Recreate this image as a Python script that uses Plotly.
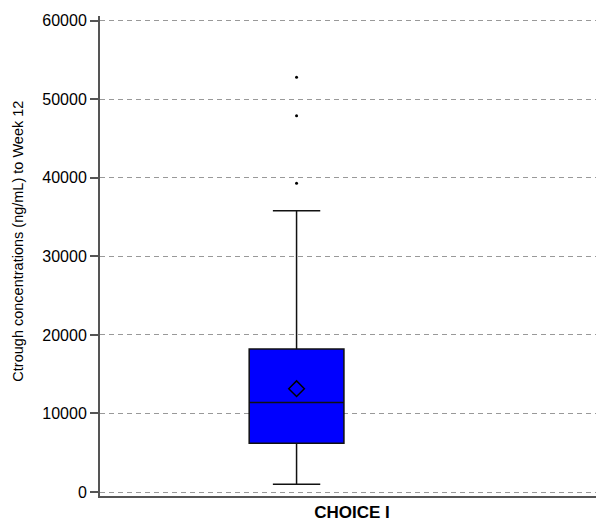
import plotly.graph_objects as go

category = ["CHOICE I"]
q1 = [6200]
median = [11400]
q3 = [18200]
lower_fence = [1000]
upper_fence = [35800]
mean = [13150]
outliers = [39300, 47900, 52800]
y_ticks = [0, 10000, 20000, 30000, 40000, 50000, 60000]
y_title = "Ctrough concentrations (ng/mL) to Week 12"

box_pos = 0.39
label_pos = 0.5

fig = go.Figure()
fig.add_trace(go.Box(
    x=[box_pos], q1=q1, median=median, q3=q3,
    lowerfence=lower_fence, upperfence=upper_fence,
    width=0.188, whiskerwidth=0.5,
    fillcolor="#0000FF", line=dict(color="#111111", width=1.5),
    boxpoints=False, name=category[0], showlegend=False,
))
fig.add_trace(go.Scatter(
    x=[box_pos] * len(mean), y=mean, mode="markers",
    marker=dict(symbol="diamond-open", size=12, color="#000000", line=dict(width=1.5, color="#000000")),
    showlegend=False,
))
fig.add_trace(go.Scatter(
    x=[box_pos] * len(outliers), y=outliers, mode="markers",
    marker=dict(symbol="circle", size=3, color="#000000"),
    showlegend=False,
))

fig.update_layout(
    width=596, height=516,
    margin=dict(l=92, r=0, t=8, b=28),
    paper_bgcolor="white", plot_bgcolor="white",
    font=dict(family="Liberation Sans, Arial, sans-serif", color="#000000"),
    xaxis=dict(
        range=[0, 1], showgrid=False, zeroline=False,
        tickvals=[label_pos], ticktext=["<b>" + category[0] + "</b>"],
        ticks="", tickfont=dict(size=17, color="#000000"),
        showline=True, linecolor="#555555", linewidth=2, automargin=False,
    ),
    yaxis=dict(
        range=[-509, 60598], tickvals=y_ticks, ticktext=[str(v) for v in y_ticks],
        showgrid=True, gridcolor="#999999", gridwidth=1, griddash="5px,4px",
        zeroline=False, ticks="outside", ticklen=8, tickwidth=1.5, tickcolor="#555555",
        tickfont=dict(size=16, color="#000000"),
        showline=True, linecolor="#555555", linewidth=2, automargin=False,
    ),
    annotations=[dict(
        text=y_title, textangle=-90, xref="paper", yref="paper",
        x=-0.1627, y=0.532, xanchor="center", yanchor="middle",
        showarrow=False, font=dict(size=14.5, color="#000000"),
    )],
)

fig.write_html("out.html")
